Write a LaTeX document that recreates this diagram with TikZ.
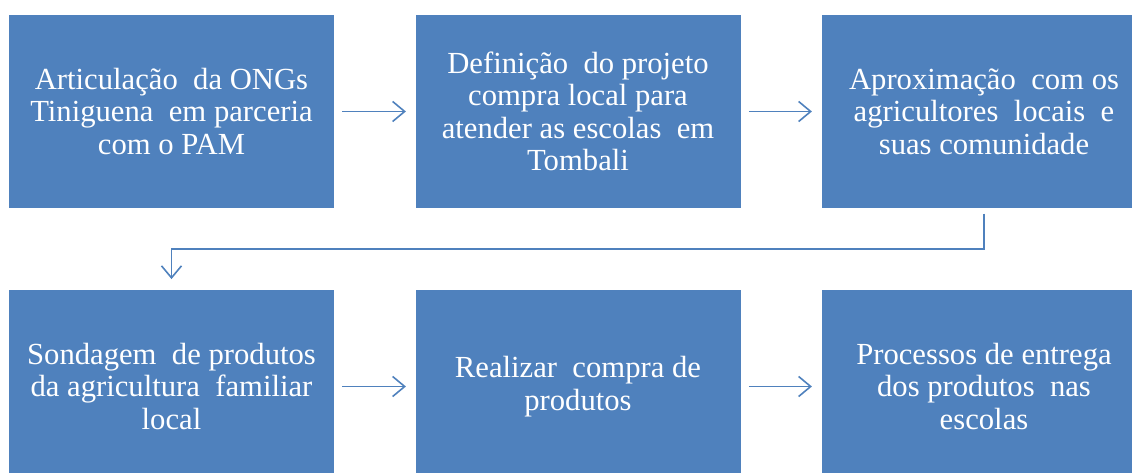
\documentclass[tikz,border=0pt]{standalone}
\usepackage{fontspec}
\IfFontExistsTF{LiberationSerif-Regular.ttf}
  {\newfontfamily\boxfont{LiberationSerif-Regular.ttf}\def\boxsize{\fontsize{23}{24.4}\selectfont}}
  {\def\boxfont{\rmfamily}\def\boxsize{\fontsize{20.5}{24.4}\selectfont}}
\usetikzlibrary{arrows.meta}
\definecolor{boxblue}{HTML}{4F81BD}
\tikzset{
  stepbox/.style={fill=boxblue, draw=none, minimum width=243.75pt, minimum height=144.75pt,
    text=white, align=center, font=\boxfont\boxsize, inner sep=0pt},
  link/.style={draw=boxblue, line width=1.2pt, -{Straight Barb[length=9pt, width=15pt, line width=1.2pt]}},
}
\begin{document}
\begin{tikzpicture}[x=0.75pt, y=-0.75pt]
\useasboundingbox (0,0) rectangle (1132,473);
\clip (0,0) rectangle (1132,473);
\node[stepbox] (a) at (171.5,111.5) {Articulação\ \ da ONGs\\Tiniguena\ \ em parceria\\com o PAM};
\node[stepbox] (b) at (578,111.5) {Definição\ \ do projeto\\compra local para\\atender as escolas\ \ em\\Tombali};
\node[stepbox] (c) at (984,111.5) {Aproximação\ \ com os\\agricultores\ \ locais\ \ e\\suas comunidade};
\node[stepbox] (d) at (171.5,386.5) {Sondagem\ \ de produtos\\da agricultura\ \ familiar\\local};
\node[stepbox] (e) at (578,386.5) {Realizar\ \ compra de\\produtos};
\node[stepbox] (f) at (984,386.5) {Processos de entrega\\dos produtos\ \ nas\\escolas};
\draw[link, shorten <=6pt, shorten >=7pt] (a) -- (b);
\draw[link, shorten <=6pt, shorten >=7pt] (b) -- (c);
\draw[link, shorten <=6pt, shorten >=7pt] (d) -- (e);
\draw[link, shorten <=6pt, shorten >=7pt] (e) -- (f);
\draw[link, shorten <=4pt, shorten >=8pt] (c.south) -- ++(0,41) -| (d.north);
\end{tikzpicture}
\end{document}
